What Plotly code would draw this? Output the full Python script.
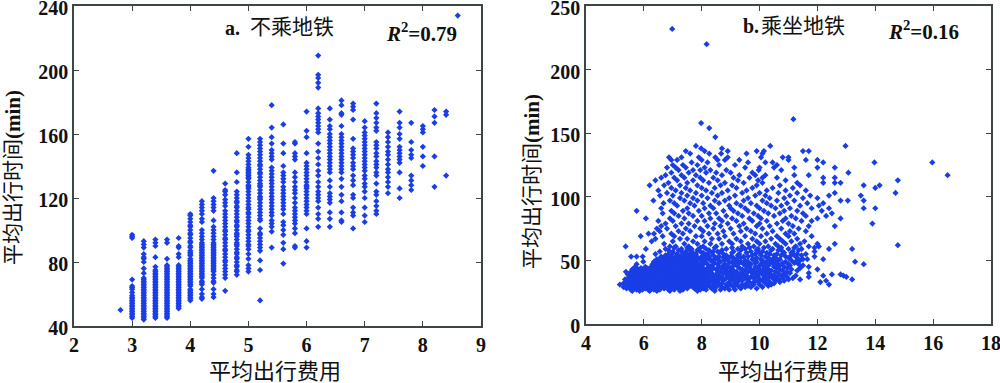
import plotly.graph_objects as go

# ---------- panel a: columns of y values at fixed cost ----------
a_costs = [2.8,3.0,3.2,3.4,3.6,3.8,4.0,4.2,4.4,4.6,4.8,5.0,5.2,5.4,5.6,5.8,6.0,6.2,6.4,6.6,6.8,7.0,7.2,7.4,7.6,7.8,8.0,8.2,8.4,8.6]
c28 = [50]
c30 = [45,46,47,48,49,50,51,52,53,54,55,56,57,58,59,61,63,64,65,69,95,96,97]
c32 = [44,45,46,47,48,49,50,51,52,53,54,55,56,57,58,59,60,61,62,63,64,65,66,67,68,69,70,73,76,80,82,83,85,89,91,93]
c34 = [45,46,47,48,49,50,51,52,53,54,55,56,57,58,59,60,61,62,63,64,65,66,67,68,69,70,71,72,73,74,75,77,83,90,92,94]
c36 = [45,46,47,48,49,50,51,52,53,54,55,56,57,58,59,60,61,62,63,64,65,66,67,68,69,70,71,72,73,74,75,76,77,78,82,92,94]
c38 = [51,52,53,54,55,56,57,58,59,60,61,62,63,64,65,66,67,68,69,70,71,72,73,74,75,76,77,78,83,85,89,90,95]
c40 = [56,57,58,59,60,61,62,63,65,66,67,68,69,70,71,72,73,74,75,76,77,78,79,80,81,82,84,85,86,87,89,90,92,93,95,97,98,100,102,103,105,107,109,110]
c42 = [57,58,60,63,66,67,68,70,71,72,73,74,75,76,77,78,79,80,81,82,83,84,85,86,87,88,89,90,91,92,94,96,98,100,105,107,110,112,114,116,118]
c44 = [58,60,63,67,68,70,72,74,75,76,77,78,79,80,81,82,83,84,85,86,87,88,89,90,91,92,94,96,98,100,102,106,112,114,116,118,120,137]
c46 = [62,70,72,74,76,78,80,81,83,85,87,88,90,92,94,95,97,99,100,102,104,106,108,110,112,115,117,119,122,124,125,129]
c48 = [72,74,75,77,78,80,82,83,85,86,88,90,91,92,94,96,97,98,100,102,103,105,106,108,110,112,114,115,117,118,120,122,124,130,136,148]
c50 = [74,76,78,82,85,88,90,91,93,95,97,99,100,102,104,106,108,110,111,113,114,116,118,120,122,124,126,127,128,130,132,133,134,135,136,137,138,139,141,143,145,147,152,157]
c52 = [56,75,81,87,89,91,93,95,97,98,101,106,107,109,111,113,115,117,119,120,121,123,125,127,128,129,131,133,135,136,138,140,141,143,145,147,149,151,153,155,157]
c54 = [89,99,102,104,106,109,111,113,115,117,119,121,123,125,127,129,131,133,135,137,139,144,146,148,150,154,158,164,178]
c56 = [79,88,92,97,100,103,105,110,113,115,117,119,121,123,125,127,130,132,134,136,140,148,154,166]
c58 = [89,90,98,101,104,106,108,110,112,114,117,120,123,125,127,130,133,136,144,146,148,154,155]
c60 = [89,93,101,110,112,114,116,118,120,122,124,126,128,130,127,132,134,136,138,140,142,148,158,162,174]
c62 = [102,107,110,114,118,120,122,124,127,130,134,137,141,145,149,154,161,163,165,167,169,171,173,176,189,192,195,197,209]
c64 = [102,107,111,117,119,121,123,127,131,136,138,140,142,144,146,148,150,152,154,156,158,160,163,165,169,176]
c66 = [105,106,111,118,122,127,132,136,138,140,142,144,146,148,150,152,154,156,158,160,165,172,173,178,181]
c68 = [101,109,111,114,120,122,128,131,134,138,140,142,145,147,149,151,157,169,175,177,179]
c70 = [105,109,114,120,124,127,129,132,134,137,139,141,143,145,147,149,151,153,155,157,159,161,164,168]
c72 = [110,112,115,118,122,124,129,134,136,139,141,143,146,148,151,153,155,162,164,167,170,173,179]
c74 = [123,127,130,133,136,138,141,144,147,149,152,155,158,161]
c76 = [120,126,136,142,144,146,148,150,152,157,160,164,167,174]
c78 = [125,128,131,134,145,147,150,155,167]
c80 = [140,146,152,161,163,165]
c82 = [127,146,167,171,175]
c84 = [134,172,174]
c86 = [234]
a_cols = [c28,c30,c32,c34,c36,c38,c40,c42,c44,c46,c48,c50,c52,c54,c56,c58,c60,c62,c64,c66,c68,c70,c72,c74,c76,c78,c80,c82,c84,c86]

# ---------- panel b: rows of cost values at a given time ----------
r26 = [5.6,5.85,6.2,6.45,6.9,7.25,7.85,8.45]
r27 = [5.55,5.75,5.95,6.15,6.35,6.55,6.85,7.05,7.35,7.95,8.15,8.65,8.95,9.15]
r28 = [5.4,5.65,5.85,6.05,6.25,6.45,6.7,6.95,7.2,7.5,7.75,8.05,8.35,8.8,9.35,9.9]
r29 = [5.3,5.5,5.65,5.8,6.0,6.2,6.35,6.5,6.7,6.9,7.1,7.3,7.5,7.7,7.9,8.1,8.3,8.5,8.7,9.1,9.5,9.7,10.1]
r30 = [5.5,5.7,5.9,6.1,6.3,6.5,6.6,6.8,7.0,7.2,7.4,7.6,7.8,8.0,8.2,8.4,8.9,9.25,9.6,10.3]
r31 = [5.17,5.4,5.6,5.75,5.9,6.05,6.25,6.4,6.6,6.8,7.0,7.2,7.4,7.6,7.8,8.0,8.25,8.6,8.85,9.0,9.4,9.8,10.0,10.4,12.4]
r32 = [5.3,5.5,5.7,5.85,6.0,6.2,6.35,6.55,6.75,6.95,7.15,7.35,7.55,7.75,7.95,8.15,8.45,8.7,9.15,9.55,9.75,10.2,10.5]
r33 = [5.45,5.65,5.8,5.95,6.1,6.3,6.45,6.65,6.85,7.05,7.25,7.45,7.65,7.85,8.05,8.3,8.55,8.95,9.25,9.65,9.95,10.35,10.7,12.1]
r34 = [5.55,5.75,5.9,6.05,6.25,6.4,6.6,6.8,7.0,7.2,7.4,7.6,7.8,8.0,8.2,8.4,8.75,9.1,9.4,9.85,10.1,10.55,10.85,12.3]
r35 = [5.35,5.6,5.7,5.95,6.15,6.35,6.55,6.75,6.95,7.15,7.35,7.55,7.75,7.95,8.15,8.35,8.6,9.0,9.3,9.6,10.0,10.25,10.65,11.0,11.4,13.2]
r36 = [5.45,5.65,5.85,6.0,6.2,6.45,6.65,6.85,7.05,7.25,7.45,7.65,7.85,8.05,8.25,8.5,8.85,9.2,9.5,9.8,10.15,10.45,10.8,11.15]
r37 = [5.6,5.75,5.95,6.1,6.3,6.5,6.7,6.9,7.1,7.3,7.5,7.7,7.9,8.1,8.4,8.7,9.05,9.35,9.7,9.95,10.35,10.6,10.95,11.7,13.0]
r38 = [5.5,5.7,5.9,6.05,6.25,6.4,6.6,6.8,7.0,7.2,7.4,7.6,7.8,8.0,8.25,8.6,8.95,9.25,9.55,9.9,10.2,10.5,10.75,11.25,12.2,12.9]
r39 = [5.45,5.65,5.85,6.0,6.2,6.35,6.55,6.75,6.95,7.15,7.35,7.55,7.75,7.95,8.15,8.5,8.85,9.15,9.45,9.85,10.1,10.4,10.85,12.5,12.8]
r40 = [5.6,5.8,5.95,6.15,6.3,6.5,6.7,6.9,7.1,7.3,7.5,7.7,7.9,8.1,8.35,8.75,9.05,9.35,9.75,10.0,10.3,10.65,11.05,11.7]
r41 = [5.38,5.55,5.7,5.9,6.1,6.25,6.45,6.65,6.85,7.05,7.25,7.45,7.65,7.85,8.05,8.2,8.65,8.95,9.2,9.6,9.9,10.2,10.55,10.95]
r42 = [5.65,5.85,6.05,6.2,6.4,6.6,6.8,7.0,7.2,7.4,7.6,7.8,8.0,8.3,8.55,8.85,9.1,9.5,9.8,10.1,10.4,10.8,11.3]
r43 = [5.6,5.8,6.0,6.15,6.35,6.55,6.75,6.95,7.15,7.35,7.55,7.75,7.95,8.15,8.5,8.8,9.05,9.4,9.7,10.0,10.3,10.7,11.1,12.0]
r44 = [5.9,6.1,6.3,6.5,6.7,6.9,7.1,7.3,7.5,7.7,7.9,8.05,8.4,8.7,9.0,9.3,9.65,9.95,10.2,10.6,10.95,11.4]
r45 = [5.7,6.05,6.25,6.45,6.65,6.85,7.05,7.25,7.45,7.65,7.85,8.25,8.6,8.9,9.25,9.55,9.85,10.15,10.5,10.85,11.7]
r46 = [6.4,6.6,6.8,7.0,7.2,7.4,7.6,7.8,8.0,8.35,8.75,9.1,9.65,10.0,10.3,10.7,11.05,11.5]
r47 = [5.75,6.3,6.5,6.7,6.9,7.1,7.3,7.5,7.7,7.95,8.2,8.55,8.8,9.15,9.45,9.7,10.05,10.35,10.6,11.0,11.35,13.6]
r48 = [6.45,6.65,6.85,7.05,7.25,7.45,7.65,7.85,8.1,8.45,8.95,9.3,9.55,9.85,10.2,10.45,10.8,11.2]
r49 = [5.98,6.35,6.6,6.8,7.0,7.2,7.4,7.6,7.8,8.1,8.4,8.65,9.05,9.35,9.6,9.9,10.25,10.55,10.9,11.25,13.3]
r50 = [6.5,6.75,6.95,7.15,7.35,7.55,7.75,8.0,8.3,8.6,8.8,9.2,9.5,9.8,10.1,10.4,10.65,11.1,11.4]
r51 = [6.45,6.7,6.9,7.1,7.35,7.5,7.7,7.9,8.15,8.3,8.45,8.9,9.2,9.75,10.05,10.45,10.7,11.5,11.65,12.2]
r52 = [6.6,6.85,7.05,7.25,7.6,7.85,8.05,8.5,8.75,9.1,9.35,9.9,10.3,10.55,11.0,11.3]
r53 = [5.56,5.75,5.96,6.6,6.95,7.25,7.45,7.7,8.0,8.25,8.6,9.0,9.45,9.6,10.2,10.9,11.05,11.9]
r54 = [6.75,7.15,7.55,7.8,8.15,8.4,8.85,9.25,9.75,10.05,10.5,10.75,11.2,11.45]
r55 = [6.4,6.85,7.15,7.35,7.6,7.8,8.2,8.75,9.3,9.85,10.35,10.6,11.3,11.6]
r56 = [7.0,7.45,7.7,8.05,8.35,8.6,9.05,9.55,10.0,10.25,10.85,11.1]
r57 = [6.55,7.0,7.3,7.45,7.95,8.4,8.55,9.1,9.7,10.1,10.8,11.15,11.9]
r58 = [6.85,7.2,7.6,7.85,8.25,8.7,9.35,9.9,10.4,10.65,11.35]
r59 = [6.07,6.75,7.3,7.65,8.15,8.85,9.25,9.5,9.95,10.45,11.0,11.45,12.4,13.2]
r60 = [7.05,7.5,7.95,8.45,9.05,9.65,10.15,10.75,11.2,11.9]
r61 = [5.37,6.9,7.1,7.55,8.05,8.5,9.4,9.8,10.3,10.65,11.25,11.7,12.05]
r63 = [6.7,7.4,7.85,8.3,8.7,9.05,9.6,10.0,10.55,10.9,11.4,12.0,12.6]
r65 = [6.27,7.0,7.7,8.1,8.95,9.35,9.9,10.2,10.8,11.1,11.55]
r67 = [6.4,7.25,7.5,8.35,8.6,9.2,9.75,10.4,10.7,11.3]
r69 = [5.89,6.65,7.05,7.8,8.0,8.8,9.5,10.05,10.6,11.0,11.8]
r71 = [6.16,6.35,6.95,7.35,8.25,8.55,9.1,9.85,10.25,10.9,11.2]
r73 = [6.55,7.2,7.6,8.05,8.75,9.35,9.7,10.45,11.05,11.6]
r75 = [6.45,6.8,7.45,7.95,8.4,9.0,9.55,10.1,10.75,11.35]
r77 = [6.6,7.1,7.75,8.2,8.65,9.3,9.9,10.35,11.15,11.7,12.6]
r79 = [6.75,7.3,7.55,8.45,8.9,9.45,10.0,10.6,11.0,13.9]
r81 = [6.5,7.0,7.85,8.1,8.7,9.2,9.75,10.25,10.8,11.45,11.8]
r83 = [6.07,6.9,7.4,8.3,8.6,9.05,9.65,10.05,10.9,11.25,12.0,12.8]
r85 = [7.2,7.7,8.0,8.85,9.4,9.95,10.5,11.1,11.6,12.3]
r87 = [6.65,7.05,7.55,8.25,8.5,9.25,9.8,10.3,10.7,11.5,12.5]
r89 = [5.75,6.95,7.35,7.9,8.75,9.1,9.6,10.15,10.85,11.3,12.15]
r91 = [6.6,7.5,8.1,8.4,9.0,9.5,10.0,10.55,11.05,11.8,12.4,13.6,14.0]
r93 = [7.15,7.75,8.3,8.95,9.35,9.9,10.4,10.75,11.4,12.05]
r95 = [6.68,7.05,7.6,8.05,8.6,9.2,9.7,10.25,10.95,11.65,12.2]
r97 = [6.33,6.9,7.4,7.85,8.45,8.8,9.45,10.1,10.6,11.2,12.8,13.05,13.6]
r99 = [7.25,7.7,8.2,8.95,9.6,10.35,10.85,11.5,12.0]
r101 = [6.56,7.0,7.5,8.0,8.55,9.15,9.85,10.2,11.05,11.75,12.4,13.5]
r103 = [6.8,7.3,7.8,8.35,8.7,9.4,10.0,10.65,11.3,12.6,14.7]
r105 = [6.5,7.1,7.6,8.15,8.9,9.55,10.25,10.9,11.6]
r107 = [6.95,7.45,8.0,8.45,9.2,9.75,10.45,11.15,14.0]
r109 = [6.2,6.7,7.25,7.85,8.65,9.05,9.9,10.7,11.4,13.6,14.15]
r111 = [6.85,7.5,8.25,8.8,9.45,10.1,11.3,12.2,12.6,12.8]
r113 = [6.4,7.15,7.7,8.05,8.55,9.25,9.95,10.9,14.78]
r115 = [6.6,7.05,7.4,7.95,8.4,9.1,9.65,10.1,10.6,12.2,12.6]
r117 = [6.75,7.3,7.8,8.7,9.3,9.85,10.2,11.2,11.7,16.5]
r119 = [6.95,7.55,8.15,8.5,9.0,9.75,13.07]
r121 = [7.2,7.7,7.95,8.3,8.85,9.97,10.75]
r123 = [6.8,7.1,7.45,8.1,9.5,10.0,10.5,11.2,12.0,12.6]
r125 = [7.0,7.35,7.85,8.6,9.15,10.6]
r127 = [7.65,8.2,9.6,10.2,10.45,12.2,13.97,15.97]
r129 = [6.95,7.15,8.0,8.55,8.8,9.3,11.0,11.6,12.0]
r131 = [6.87,7.3,7.9,8.47,8.9,10.05,10.8,11.0]
r134 = [7.6,8.26,8.67,9.55,10.1]
r136 = [7.45,8.1,8.9,9.9,10.15,11.5,11.7]
r138 = [7.98,8.7]
r140 = [7.8,10.37,12.97]
r147 = [8.47]
r154 = [8.26]
r158 = [7.98]
r161 = [11.17]
r220 = [8.17]
r232 = [6.98]
r62 = [14.78]
b_times = [26,27,28,29,30,31,32,33,34,35,36,37,38,39,40,41,42,43,44,45,46,47,48,49,50,51,52,53,54,55,56,57,58,59,60,61,62,63,65,67,69,71,73,75,77,79,81,83,85,87,89,91,93,95,97,99,101,103,105,107,109,111,113,115,117,119,121,123,125,127,129,131,134,136,138,140,147,154,158,161,220,232]
b_rows = [r26,r27,r28,r29,r30,r31,r32,r33,r34,r35,r36,r37,r38,r39,r40,r41,r42,r43,r44,r45,r46,r47,r48,r49,r50,r51,r52,r53,r54,r55,r56,r57,r58,r59,r60,r61,r62,r63,r65,r67,r69,r71,r73,r75,r77,r79,r81,r83,r85,r87,r89,r91,r93,r95,r97,r99,r101,r103,r105,r107,r109,r111,r113,r115,r117,r119,r121,r123,r125,r127,r129,r131,r134,r136,r138,r140,r147,r154,r158,r161,r220,r232]

a_x_ticks = [2,3,4,5,6,7,8,9]
a_y_ticks = [40,80,120,160,200,240]
b_x_ticks = [4,6,8,10,12,14,16,18]
b_y_ticks = [0,50,100,150,200,250]

x_title = "平均出行费用"
y_title = "平均出行时间<b>(min)</b>"
a_title = "不乘地铁"
b_title = "乘坐地铁"

ax, ay = [], []
for cost, col in zip(a_costs, a_cols):
    for v in col:
        ax.append(cost); ay.append(v)
bx, by = [], []
for t, row in zip(b_times, b_rows):
    for v in row:
        bx.append(v); by.append(t)

W, H = 1000, 383
BLUE = "#1a3ee6"
SERIF = "Liberation Serif"
MIX = "Liberation Serif, Noto Sans CJK SC"
AXC = "#3c4648"

fig = go.Figure()
mk = dict(symbol="diamond", size=4.8, color=BLUE, line=dict(width=0))
fig.add_trace(go.Scatter(x=ax, y=ay, mode="markers", marker=mk, xaxis="x", yaxis="y", showlegend=False))
fig.add_trace(go.Scatter(x=bx, y=by, mode="markers", marker=mk, xaxis="x2", yaxis="y2", showlegend=False))

def axis(rng, ticks, dom, anchor, shift=0):
    return dict(range=rng, tickvals=ticks, domain=dom, anchor=anchor, showgrid=False, zeroline=False,
                showline=True, mirror="ticks", linecolor=AXC, linewidth=1.5, ticks="inside",
                ticklen=5, tickwidth=1, tickcolor=AXC, ticklabeloverflow="allow", ticklabelshift=shift,
                tickfont=dict(family=SERIF, size=20, color="#111", weight=700))

def notes(text, px, py, size, angle=0):
    return dict(text=text, xref="paper", yref="paper", x=px/W, y=1-py/H, showarrow=False,
                xanchor="center", yanchor="middle", textangle=angle,
                font=dict(family=MIX, size=size, color="#111"))

ann = [
    notes(x_title, 275, 371, 22),
    notes(x_title, 784, 371, 22),
    notes(y_title, 13, 178, 21, angle=-90),
    notes(y_title, 532, 182, 21, angle=-90),
    notes("<b>a.</b>", 232, 28, 20),
    notes(a_title, 292, 27, 21),
    notes("<b>b.</b>", 751, 26, 20),
    notes(b_title, 803, 26, 21),
    notes("<b><i>R</i><sup>2</sup>=0.79</b>", 421, 33, 21),
    notes("<b><i>R</i><sup>2</sup>=0.16</b>", 923, 31, 21),
]

fig.update_layout(
    width=W, height=H, margin=dict(l=0, r=0, t=0, b=0, autoexpand=False), autosize=False,
    paper_bgcolor="white", plot_bgcolor="white", showlegend=False,
    xaxis=axis([2, 9], a_x_ticks, [74/W, 481/W], "y"),
    yaxis=axis([40, 240], a_y_ticks, [1-326/H, 1-6/H], "x", shift=2),
    xaxis2=axis([4, 18], b_x_ticks, [586/W, 991/W], "y2"),
    yaxis2=axis([0, 250], b_y_ticks, [1-324/H, 1-6/H], "x2", shift=2),
    annotations=ann,
)
fig.write_html("out.html", config=dict(displayModeBar=False),
               post_script="document.body.style.margin='0';document.body.style.overflow='hidden';")
